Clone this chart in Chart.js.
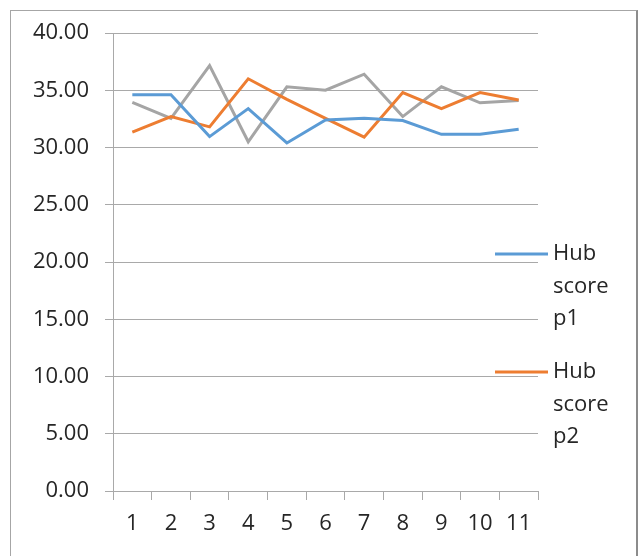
<!DOCTYPE html>
<html>
<head>
<meta charset="utf-8">
<script src="https://cdn.jsdelivr.net/npm/chart.js@4/dist/chart.umd.min.js"></script>
<style>
  html, body { margin: 0; padding: 0; background: #fff; }
  #wrap { position: relative; width: 641px; height: 556px; overflow: hidden; }
  #c { position: absolute; left: 0; top: 0; }
  #frame { position: absolute; left: 10px; top: 10px; width: 628px; height: 570px;
           border: 1px solid #a6a6a6; border-right: 2px solid #8c8c8c; pointer-events: none; box-sizing: border-box; }
</style>
</head>
<body>
<div id="wrap">
  <canvas id="c" width="641" height="556"></canvas>
  <div id="frame"></div>
</div>
<script>
const categories = ['1','2','3','4','5','6','7','8','9','10','11'];
const hubScoreP1 = [34.6, 34.6, 30.95, 33.4, 30.4, 32.4, 32.55, 32.35, 31.15, 31.15, 31.6];
const hubScoreP2 = [31.35, 32.7, 31.8, 36.0, 34.2, 32.55, 30.9, 34.8, 33.4, 34.8, 34.15];
const series3 = [33.95, 32.55, 37.15, 30.5, 35.3, 35.0, 36.4, 32.7, 35.3, 33.9, 34.1];
const seriesNames = [['Hub', 'score', 'p1'], ['Hub', 'score', 'p2'], ['Series 3']];
const yTicks = { min: 0, max: 40, step: 5 };

const FONT = 'Open Sans';
const TEXT = '#262626';
const GRID = '#a9a9a9';

const legendPlugin = {
  id: 'customLegend',
  afterDraw(chart) {
    const ctx = chart.ctx;
    const entries = [
      { y: 254, name: seriesNames[0], color: '#5B9BD5' },
      { y: 372, name: seriesNames[1], color: '#ED7D31' }
    ];
    ctx.save();
    ctx.font = '22px "' + FONT + '"';
    ctx.textBaseline = 'middle';
    ctx.textAlign = 'left';
    entries.forEach(e => {
      ctx.strokeStyle = e.color;
      ctx.lineWidth = 3;
      ctx.beginPath();
      ctx.moveTo(495, e.y);
      ctx.lineTo(548, e.y);
      ctx.stroke();
      ctx.fillStyle = TEXT;
      e.name.forEach((t, i) => ctx.fillText(t, 553, e.y + i * 32.5));
    });
    ctx.restore();
  }
};

new Chart(document.getElementById('c'), {
  type: 'line',
  data: {
    labels: categories,
    datasets: [
      { label: seriesNames[0].join(' '), data: hubScoreP1, borderColor: '#5B9BD5', backgroundColor: '#5B9BD5' },
      { label: seriesNames[1].join(' '), data: hubScoreP2, borderColor: '#ED7D31', backgroundColor: '#ED7D31' },
      { label: seriesNames[2].join(' '), data: series3, borderColor: '#A5A5A5', backgroundColor: '#A5A5A5' }
    ]
  },
  options: {
    responsive: false,
    animation: false,
    devicePixelRatio: 1,
    layout: { padding: { left: 0, top: 33, right: 103, bottom: 0 } },
    elements: {
      line: { borderWidth: 3, tension: 0, borderJoinStyle: 'miter' },
      point: { radius: 0, hoverRadius: 0 }
    },
    plugins: { legend: { display: false }, tooltip: { enabled: false } },
    scales: {
      x: {
        offset: true,
        grid: { display: true, drawOnChartArea: false, drawTicks: true, tickLength: 9, color: GRID, offset: true },
        border: { display: true, color: GRID, width: 1 },
        ticks: { color: TEXT, font: { family: FONT, size: 22 }, padding: 11, maxRotation: 0, autoSkip: false },
        afterFit(s) { s.height = 65; }
      },
      y: {
        min: yTicks.min, max: yTicks.max,
        ticks: { stepSize: yTicks.step, color: TEXT, font: { family: FONT, size: 22 }, padding: 16,
                 callback: v => Number(v).toFixed(2) },
        grid: { color: GRID, tickLength: 8, drawTicks: true },
        border: { display: true, color: GRID, width: 1 },
        afterFit(s) { s.width = 113; }
      }
    }
  },
  plugins: [legendPlugin]
});
</script>
</body>
</html>
